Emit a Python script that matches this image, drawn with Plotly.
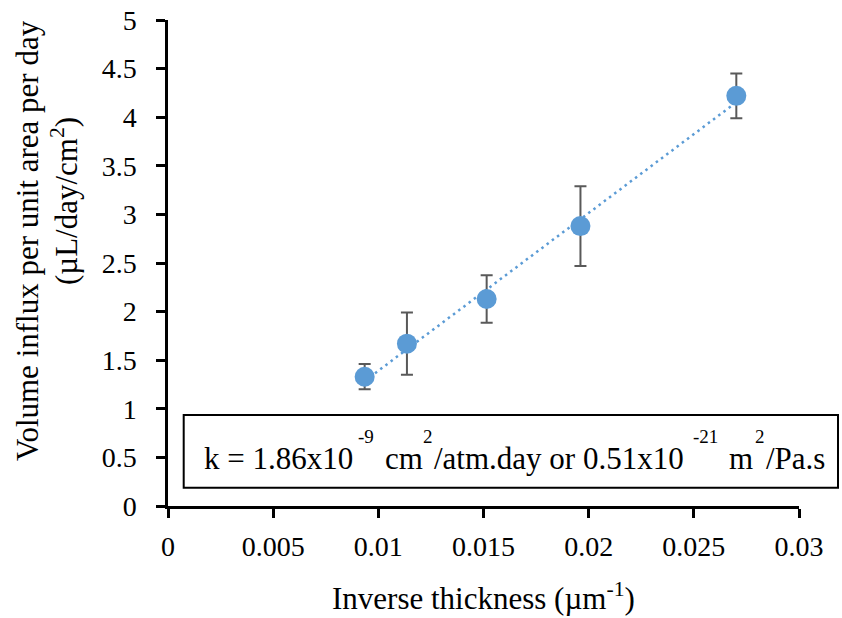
import numpy as np
import plotly.graph_objects as go

# Measured flux vs inverse membrane thickness
inv_thickness = [0.00935, 0.01136, 0.01515, 0.01961, 0.02702]   # µm^-1
flux = [1.33, 1.67, 2.13, 2.88, 4.22]                            # µL/day/cm²
flux_err = [0.13, 0.32, 0.245, 0.41, 0.23]

x_ticks = [0, 0.005, 0.01, 0.015, 0.02, 0.025, 0.03]
x_tick_text = ["0", "0.005", "0.01", "0.015", "0.02", "0.025", "0.03"]
y_ticks = [0, 0.5, 1, 1.5, 2, 2.5, 3, 3.5, 4, 4.5, 5]
y_tick_text = ["0", "0.5", "1", "1.5", "2", "2.5", "3", "3.5", "4", "4.5", "5"]

BLUE = "#5B9BD5"
FONT = "Liberation Serif, Times New Roman, serif"

W, H = 842, 618
ML, MR, MT, MB = 168, 43, 20, 112
PW, PH = W - ML - MR, H - MT - MB


def px(xp):
    return (xp - ML) / PW


def py(yp):
    return (H - MB - yp) / PH


# Linear trendline across the measured range
slope, intercept = np.polyfit(inv_thickness, flux, 1)
fit_x = np.array([min(inv_thickness), max(inv_thickness)])
fit_y = slope * fit_x + intercept

fig = go.Figure()
fig.add_trace(go.Scatter(
    x=fit_x, y=fit_y, mode="lines",
    line=dict(color=BLUE, width=2.5, dash="2.5px,4px"),
    hoverinfo="skip", showlegend=False,
))
fig.add_trace(go.Scatter(
    x=inv_thickness, y=flux, mode="markers",
    marker=dict(color=BLUE, size=20, line=dict(width=0)),
    error_y=dict(type="data", array=flux_err, color="#595959", thickness=2, width=6),
    showlegend=False,
))

axis_common = dict(
    showline=True, linecolor="black", linewidth=2.5,
    ticks="outside", ticklen=9, tickwidth=2.5, tickcolor="black",
    showgrid=False, zeroline=False,
    tickfont=dict(family=FONT, size=28, color="black"),
)
fig.update_xaxes(range=[0, 0.03], tickvals=x_ticks, ticktext=x_tick_text,
                 ticklabelstandoff=5, **axis_common)
fig.update_yaxes(range=[0, 5], tickvals=y_ticks, ticktext=y_tick_text,
                 ticklabelstandoff=14, **axis_common)

# Permeability box
fig.add_shape(type="rect", xref="paper", yref="paper",
              x0=px(183.7), x1=px(838), y0=py(487.7), y1=py(415),
              line=dict(color="black", width=2), fillcolor="white", layer="above")

main_size, sup_size = 31, 19
main_pieces = [("k = 1.86x10", 203), ("cm", 384), ("/atm.day or 0.51x10", 433),
               ("m", 728), ("/Pa.s", 765)]
sup_pieces = [("-9", 357), ("2", 422), ("-21", 692), ("2", 754)]
for txt, xp in main_pieces:
    fig.add_annotation(text=txt, xref="paper", yref="paper", x=px(xp), y=py(459),
                       xanchor="left", yanchor="middle", showarrow=False,
                       borderpad=0, font=dict(family=FONT, size=main_size, color="black"))
for txt, xp in sup_pieces:
    fig.add_annotation(text=txt, xref="paper", yref="paper", x=px(xp), y=py(436),
                       xanchor="left", yanchor="middle", showarrow=False,
                       borderpad=0, font=dict(family=FONT, size=sup_size, color="black"))

# Axis titles
fig.add_annotation(text="Inverse thickness (µm<sup>-1</sup>)", xref="paper", yref="paper",
                   x=px(483), y=py(596), xanchor="center", yanchor="middle",
                   showarrow=False, font=dict(family=FONT, size=31, color="black"))
fig.add_annotation(text="Volume influx per unit area per day", xref="paper", yref="paper",
                   x=px(27), y=py(241), xanchor="center", yanchor="middle", textangle=-90,
                   showarrow=False, font=dict(family=FONT, size=31, color="black"))
fig.add_annotation(text="(µL/day/cm<sup>2</sup>)", xref="paper", yref="paper",
                   x=px(64), y=py(201), xanchor="center", yanchor="middle", textangle=-90,
                   showarrow=False, font=dict(family=FONT, size=31, color="black"))

fig.update_layout(
    width=W, height=H,
    margin=dict(l=ML, r=MR, t=MT, b=MB, autoexpand=False),
    paper_bgcolor="white", plot_bgcolor="white",
)

fig.write_html("out.html")
